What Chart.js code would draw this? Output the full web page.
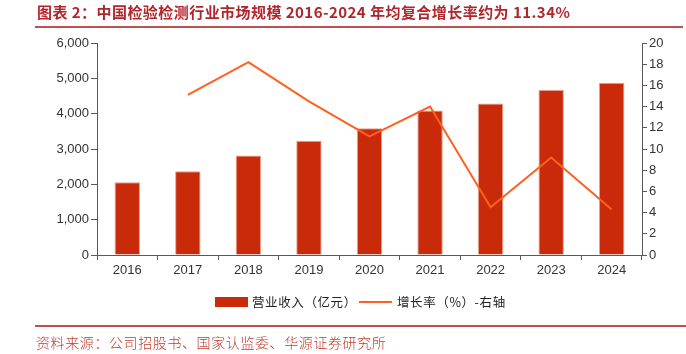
<!DOCTYPE html>
<html>
<head>
<meta charset="utf-8">
<script src="https://cdn.jsdelivr.net/npm/chart.js@4.4.1/dist/chart.umd.min.js"></script>
<style>
  html, body { margin: 0; padding: 0; background: #fff; }
  #wrap { position: relative; width: 686px; height: 354px; overflow: hidden; font-family: "Liberation Sans", Arial, sans-serif; }
  #c { position: absolute; left: 0; top: 0; }
  #title { position: absolute; left: 37px; top: 2px; font: bold 15px "Noto Sans CJK SC", sans-serif; color: #B0262C; white-space: nowrap; line-height: 20px; letter-spacing: 0.45px; }
  #tline { position: absolute; left: 35px; top: 26px; width: 648px; height: 2px; background: #C0504D; }
  #sline { position: absolute; left: 35px; top: 325px; width: 651px; height: 2px; background: #C0504D; }
  #source { position: absolute; left: 36px; top: 333px; font: 300 14px "Noto Sans CJK SC", sans-serif; color: #C0392B; white-space: nowrap; line-height: 18px; letter-spacing: 0.6px; }
  .lg { position: absolute; font: 12.5px "Noto Sans CJK SC", sans-serif; color: #222; white-space: nowrap; line-height: 16px; top: 294px; letter-spacing: 0.6px; }
  .sw { position: absolute; }
</style>
</head>
<body>
<div id="wrap">
  <canvas id="c" width="686" height="354"></canvas>
  <div id="title">图表 2：中国检验检测行业市场规模 2016-2024 年均复合增长率约为 11.34%</div>
  <div id="tline"></div>
  <div class="sw" style="left:215px;top:297px;width:33px;height:10px;background:#C92A0A;"></div>
  <div class="lg" id="lg1" style="left:252px;"></div>
  <div class="sw" style="left:359px;top:301px;width:33px;height:2px;background:#FF5F1F;"></div>
  <div class="lg" id="lg2" style="left:397px;"></div>
  <div id="sline"></div>
  <div id="source">资料来源：公司招股书、国家认监委、华源证券研究所</div>
</div>
<script>
const categories = ['2016', '2017', '2018', '2019', '2020', '2021', '2022', '2023', '2024'];
const revenue = [2060, 2370, 2815, 3235, 3590, 4090, 4285, 4670, 4875];
const growth = [null, 15.1, 18.2, 14.5, 11.2, 14.0, 4.5, 9.2, 4.3];
const seriesNames = ['营业收入（亿元）', '增长率（%）-右轴'];
const leftTicks = [0, 1000, 2000, 3000, 4000, 5000, 6000];
const rightTicks = [0, 2, 4, 6, 8, 10, 12, 14, 16, 18, 20];

document.getElementById('lg1').textContent = seriesNames[0];
document.getElementById('lg2').textContent = seriesNames[1];

const axisColor = '#595959';
const tickFont = { family: '"Liberation Sans", Arial, sans-serif', size: 13 };

new Chart(document.getElementById('c'), {
  data: {
    labels: categories,
    datasets: [
      {
        type: 'line', label: seriesNames[1], data: growth, yAxisID: 'y1', order: 0,
        borderColor: '#FF5F1F', borderWidth: 2, pointRadius: 0, fill: false, tension: 0, spanGaps: false
      },
      {
        type: 'bar', label: seriesNames[0], data: revenue, yAxisID: 'y', order: 1,
        backgroundColor: '#C92A0A', borderColor: '#E9A08E', borderWidth: 1,
        barPercentage: 0.42, categoryPercentage: 1.0
      }
    ]
  },
  options: {
    responsive: false,
    animation: false,
    layout: { padding: { top: 43, left: 0, right: 0, bottom: 0 } },
    plugins: { legend: { display: false }, tooltip: { enabled: false } },
    scales: {
      x: {
        afterFit: s => { s.height = 99; },
        grid: { offset: true, drawOnChartArea: false, drawTicks: true, tickLength: 5, color: axisColor },
        border: { color: axisColor, width: 1 },
        ticks: { color: '#333', font: tickFont, padding: 3 }
      },
      y: {
        position: 'left', min: 0, max: 6000,
        afterFit: s => { s.width = 97; },
        afterBuildTicks: s => { s.ticks = leftTicks.map(v => ({ value: v })); },
        grid: { drawOnChartArea: false, drawTicks: true, tickLength: 6, color: axisColor },
        border: { color: axisColor, width: 1 },
        ticks: { color: '#333', font: tickFont, padding: 2, callback: v => v.toLocaleString('en-US') }
      },
      y1: {
        position: 'right', min: 0, max: 20,
        afterFit: s => { s.width = 44; },
        afterBuildTicks: s => { s.ticks = rightTicks.map(v => ({ value: v })); },
        grid: { drawOnChartArea: false, drawTicks: true, tickLength: 5, color: axisColor },
        border: { color: axisColor, width: 1 },
        ticks: { color: '#333', font: tickFont, padding: 2 }
      }
    }
  }
});
</script>
</body>
</html>
